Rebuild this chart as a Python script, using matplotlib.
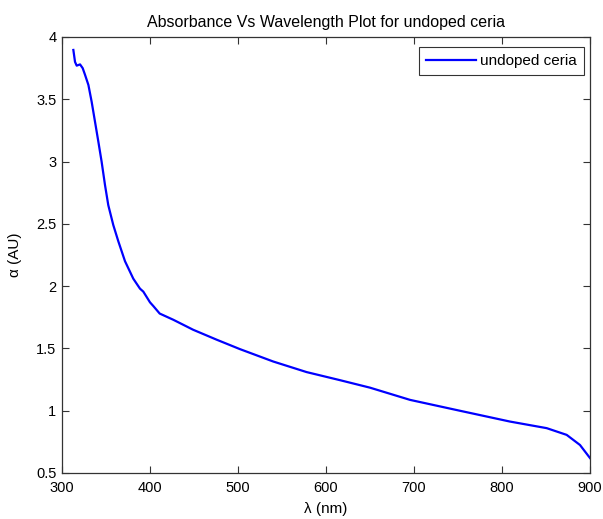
import matplotlib
matplotlib.use('Agg')
import matplotlib.pyplot as plt

# wavelength (nm) and absorbance
wavelength = [312.9, 314.8, 316.7, 320.5, 323.5, 326, 330, 333.7, 337.5, 341.3,
              345, 348.9, 352.6, 358.3, 364, 371.6, 381, 388.6, 392.4, 400,
              403.8, 411, 426.5, 449, 475.8, 502, 540, 578, 616, 650,
              695.5, 752, 809, 850.8, 873.5, 888.6, 900]
absorbance = [3.896, 3.80, 3.77, 3.78, 3.75, 3.70, 3.615, 3.48, 3.32, 3.16,
              3.0, 2.81, 2.65, 2.49, 2.36, 2.20, 2.06, 1.98, 1.956, 1.87,
              1.84, 1.78, 1.73, 1.65, 1.57, 1.495, 1.395, 1.31, 1.245, 1.185,
              1.087, 1.0, 0.913, 0.86, 0.806, 0.725, 0.62]

xticks = [300, 400, 500, 600, 700, 800, 900]
yticks = [0.5, 1, 1.5, 2, 2.5, 3, 3.5, 4]
yticklabels = ['0.5', '1', '1.5', '2', '2.5', '3', '3.5', '4']

plt.rcParams['font.family'] = ['Liberation Sans', 'DejaVu Sans']
plt.rcParams['font.size'] = 10.5

fig = plt.figure(figsize=(6.03, 5.19), dpi=100)
fig.patch.set_facecolor('white')
ax = fig.add_axes([62 / 603, 46 / 519, 528 / 603, 436 / 519])

ax.plot(wavelength, absorbance, color='#0000ff', linewidth=1.6, label='undoped ceria')

ax.set_xlim(300, 900)
ax.set_ylim(0.5, 4)
ax.set_xticks(xticks)
ax.set_yticks(yticks)
ax.set_yticklabels(yticklabels)
ax.tick_params(direction='in', top=True, right=True, length=5, width=0.8,
               colors='#333333', labelcolor='black', labelsize=10.5)
ax.tick_params(axis='x', pad=6)
ax.tick_params(axis='y', pad=4)
for s in ax.spines.values():
    s.set_color('#333333')
    s.set_linewidth(0.9)

ax.set_title('Absorbance Vs Wavelength Plot for undoped ceria', fontsize=11.5, pad=7)
ax.set_xlabel('λ (nm)', fontsize=11, labelpad=5)
ax.set_ylabel('α (AU)', fontsize=11, labelpad=10)

leg = ax.legend(loc='upper right', fontsize=11, frameon=True, fancybox=False,
                bbox_to_anchor=(584 / 603, (519 - 47) / 519),
                bbox_transform=fig.transFigure, borderaxespad=0,
                handlelength=3.3, handletextpad=0.26, borderpad=0.45)
leg.get_frame().set_edgecolor('black')
leg.get_frame().set_linewidth(0.8)

fig.savefig('out.png', dpi=100, facecolor='white')
